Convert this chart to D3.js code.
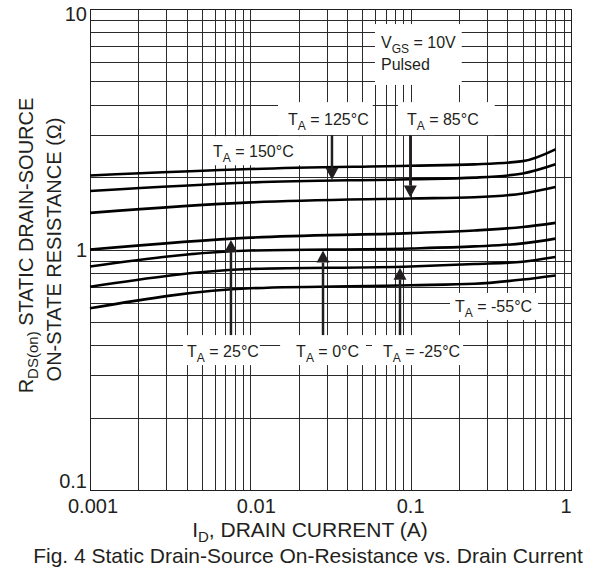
<!DOCTYPE html>
<html>
<head>
<meta charset="utf-8">
<script src="https://cdn.jsdelivr.net/npm/d3@7"></script>
<style>
  body { margin: 0; background: #fff; }
  svg text { font-family: Arial, "Liberation Sans", sans-serif; fill: #231f20; }
</style>
</head>
<body>
<div id="chart"></div>
<script>
// drain current (A) sample points
const current = [0.001, 0.01, 0.1, 0.25, 0.5, 0.8];

// RDS(on) in ohms, one series per ambient temperature
const r150 = [2.03, 2.16, 2.23, 2.26, 2.33, 2.61];
const r125 = [1.75, 1.90, 1.96, 1.99, 2.07, 2.26];
const r85  = [1.42, 1.57, 1.63, 1.65, 1.71, 1.82];
const r25  = [1.00, 1.12, 1.17, 1.20, 1.24, 1.29];
const r0   = [0.85, 0.99, 1.01, 1.03, 1.06, 1.11];
const rm25 = [0.70, 0.83, 0.85, 0.87, 0.89, 0.93];
const rm55 = [0.57, 0.69, 0.71, 0.72, 0.75, 0.78];

const series = [r150, r125, r85, r25, r0, rm25, rm55];

const xTicks = [0.001, 0.01, 0.1, 1];
const xTickLabels = ["0.001", "0.01", "0.1", "1"];
const yTicks = [0.1, 1, 10];
const yTickLabels = ["0.1", "1", "10"];

// temperature labels: text, current at text start, R at baseline
const tempText = ["150", "125", "85", "25", "0", "-25", "-55"];
const tempX = [0.00585, 0.01718, 0.0948, 0.00403, 0.0193, 0.0672, 0.189];
const tempY = [2.42, 3.29, 3.29, 0.357, 0.357, 0.357, 0.55];

// arrows: current, series they point at, label they come from
const arrowX = [0.0323, 0.0995, 0.00757, 0.0284, 0.0858];
const arrowSeries = [1, 2, 3, 4, 5];

let margin = { top: 9, right: 24, bottom: 81, left: 90 },
  width = 595 - margin.left - margin.right,
  height = 571 - margin.top - margin.bottom;

let svg = d3.select("#chart").append("svg")
  .attr("width", 595)
  .attr("height", 571);

let g = svg.append("g")
  .attr("transform", "translate(" + margin.left + "," + margin.top + ")");

let x = d3.scaleLog().domain([0.001, 1]).range([0, width]);
let y = d3.scaleLog().domain([0.1, 10]).range([height, 0]);

// minor grid: 1..9 in every decade
let gridX = [], gridY = [];
[0.001, 0.01, 0.1].forEach(d => { for (let k = 1; k <= 9; k++) gridX.push(d * k); });
[0.1, 1].forEach(d => { for (let k = 1; k <= 9; k++) gridY.push(d * k); });

g.selectAll(".vgrid").data(gridX).enter().append("line")
  .attr("x1", d => Math.round(x(d)) + 0.5).attr("x2", d => Math.round(x(d)) + 0.5)
  .attr("y1", 0).attr("y2", height)
  .style("stroke", "#2a2a2a").style("stroke-width", 1);

g.selectAll(".hgrid").data(gridY).enter().append("line")
  .attr("y1", d => Math.round(y(d)) + 0.5).attr("y2", d => Math.round(y(d)) + 0.5)
  .attr("x1", 0).attr("x2", width)
  .style("stroke", "#2a2a2a").style("stroke-width", 1);

g.append("rect")
  .attr("x", 0.5).attr("y", 0.5)
  .attr("width", width).attr("height", height)
  .style("fill", "none").style("stroke", "#231f20");

// tick labels (nudged inward like the datasheet)
const xNudge = [3, 6, 0, -5];
const yNudge = [-2, 7.5, 12];

g.selectAll(".xt").data(xTicks).enter().append("text")
  .attr("x", (d, i) => x(d) + xNudge[i]).attr("y", height + 23)
  .attr("text-anchor", "middle").style("font-size", "20px")
  .text((d, i) => xTickLabels[i]);

g.selectAll(".yt").data(yTicks).enter().append("text")
  .attr("x", -3).attr("y", (d, i) => y(d) + yNudge[i])
  .attr("text-anchor", "end").style("font-size", "20px")
  .text((d, i) => yTickLabels[i]);

// value on a curve at current c (interpolated in log space)
function valueAt(s, c) {
  let lx = current.map(Math.log10), ly = s.map(Math.log10);
  let t = Math.log10(c);
  for (let i = 0; i < lx.length - 1; i++) {
    if (t >= lx[i] && t <= lx[i + 1]) {
      let f = (t - lx[i]) / (lx[i + 1] - lx[i]);
      return Math.pow(10, ly[i] + f * (ly[i + 1] - ly[i]));
    }
  }
  return s[s.length - 1];
}

// curves
let line = d3.line()
  .x((d, i) => x(current[i]))
  .y(d => y(d))
  .curve(d3.curveMonotoneX);

g.selectAll(".curve").data(series).enter().append("path")
  .attr("d", d => line(d))
  .style("fill", "none").style("stroke", "#000").style("stroke-width", 2.6);

// white boxes behind labels: [left, top, right, bottom] around text
const boxPad = [[10, 21, 8, 8], [10, 23, 4, 10], [9, 23, 16, 10],
  [4, 22, 1, 8], [16, 22, 7, 8], [11, 22, 3, 8], [5, 19, 6, 8]];

let boxes = [];
tempText.forEach((v, i) => {
  let px = x(tempX[i]), py = y(tempY[i]);
  let grp = g.append("g");
  let rect = grp.append("rect").style("fill", "#fff");
  let t = grp.append("text").attr("x", px).attr("y", py).style("font-size", "16px");
  t.append("tspan").text("T");
  t.append("tspan").attr("dy", 5).style("font-size", "12px").text("A");
  t.append("tspan").attr("dy", -5).text(" = " + v + "\u00b0C");
  let w = t.node().getComputedTextLength();
  let p = boxPad[i];
  let b = { x0: px - p[0], y0: py - p[1], x1: px + w + p[2], y1: py + p[3] };
  rect.attr("x", b.x0).attr("y", b.y0).attr("width", b.x1 - b.x0).attr("height", b.y1 - b.y0);
  boxes.push(b);
});

// V_GS box
let vx = x(0.0653), vy1 = y(6.88), vy2 = y(5.58);
let vg = g.append("g");
let vr = vg.append("rect").style("fill", "#fff");
let vt = vg.append("text").attr("x", vx).attr("y", vy1).style("font-size", "16px");
vt.append("tspan").text("V");
vt.append("tspan").attr("dy", 5).style("font-size", "12px").text("GS");
vt.append("tspan").attr("dy", -5).text(" = 10V");
vg.append("text").attr("x", vx).attr("y", vy2).style("font-size", "16px").text("Pulsed");
let vw = vt.node().getComputedTextLength();
vr.attr("x", vx - 6).attr("y", vy1 - 24).attr("width", vw + 12).attr("height", vy2 - vy1 + 39);

// arrows from label box edge to the curve
const arrowLabel = [1, 2, 3, 4, 5];
arrowX.forEach((c, i) => {
  let ax = x(c);
  let tip = y(valueAt(series[arrowSeries[i]], c));
  let b = boxes[arrowLabel[i]];
  let down = tip > b.y1;
  let start = down ? b.y1 : b.y0;
  let dir = down ? 1 : -1;
  let base = tip - dir * 13;
  g.append("line")
    .attr("x1", ax).attr("x2", ax).attr("y1", start).attr("y2", base)
    .style("stroke", "#231f20").style("stroke-width", 2.5);
  g.append("path")
    .attr("d", "M" + (ax - 6.5) + "," + base + "L" + (ax + 6.5) + "," + base + "L" + ax + "," + (tip - dir) + "Z")
    .style("fill", "#231f20");
});

// axis titles
let xt = svg.append("text")
  .attr("x", 310).attr("y", 537)
  .attr("text-anchor", "middle").style("font-size", "21px");
xt.append("tspan").text("I");
xt.append("tspan").attr("dy", 5).style("font-size", "15px").text("D");
xt.append("tspan").attr("dy", -5).text(", DRAIN CURRENT (A)");

svg.append("text")
  .attr("x", 308).attr("y", 563)
  .attr("text-anchor", "middle").style("font-size", "21px")
  .text("Fig. 4 Static Drain-Source On-Resistance vs. Drain Current");

let yt1 = svg.append("text")
  .attr("transform", "translate(33," + (margin.top + height / 2 - 4) + ") rotate(-90)")
  .attr("text-anchor", "middle").style("font-size", "20px");
yt1.append("tspan").text("R");
yt1.append("tspan").attr("dy", 5).style("font-size", "15px").text("DS(on)");
yt1.append("tspan").attr("dy", -5).text(" STATIC DRAIN-SOURCE");

svg.append("text")
  .attr("transform", "translate(61," + (margin.top + height / 2) + ") rotate(-90)")
  .attr("text-anchor", "middle").style("font-size", "20px")
  .text("ON-STATE RESISTANCE (\u03a9)");
</script>
</body>
</html>
